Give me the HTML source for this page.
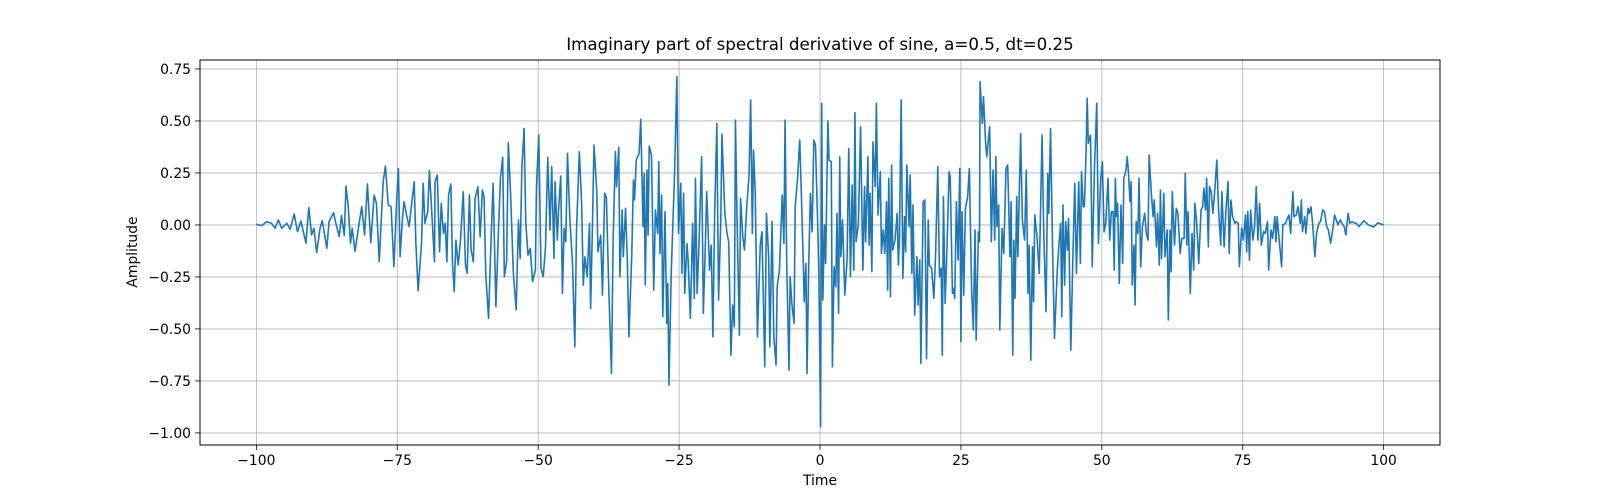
<!DOCTYPE html>
<html><head><meta charset="utf-8">
<style>
html,body{margin:0;padding:0;background:#fff;}
svg{display:block;font-family:"DejaVu Sans","Liberation Sans",sans-serif;}
</style></head>
<body>
<svg id="chart" width="1600" height="500" viewBox="0 0 1600 500" xmlns="http://www.w3.org/2000/svg">
<rect width="1600" height="500" fill="#fff"/>
<g id="grid"></g>
<g id="series"></g>
<rect x="200" y="60" width="1240" height="385" fill="none" stroke="#000" stroke-width="1"/>
<g id="ticks"></g>
<text x="820" y="50" text-anchor="middle" font-size="16.7">Imaginary part of spectral derivative of sine, a=0.5, dt=0.25</text>
<text x="820" y="485" text-anchor="middle" font-size="13.9">Time</text>
<text x="137" y="252" text-anchor="middle" font-size="13.9" transform="rotate(-90 137 252)">Amplitude</text>
</svg>
<script>
const xTicks=[-100,-75,-50,-25,0,25,50,75,100];
const yTicks=[-1.00,-0.75,-0.50,-0.25,0.00,0.25,0.50,0.75];
const yTickLabels=["\u22121.00","\u22120.75","\u22120.50","\u22120.25","0.00","0.25","0.50","0.75"];
const xTickLabels=["\u2212100","\u221275","\u221250","\u221225","0","25","50","75","100"];
const times=[-100,-99,-98.2,-97.3,-96.7,-96.1,-95.5,-94.6,-94,-93.3,-92.7,-92.1,-91.2,-90.7,-90.2,-89.8,-89.3,-88.7,-88.3,-87.5,-87.1,-86.3,-85.9,-85.3,-84.9,-84.4,-84.1,-83.7,-83.3,-83,-82.5,-81.9,-81.3,-80.8,-80.3,-79.7,-79.1,-78.7,-78.2,-77.9,-77.5,-77.1,-76.6,-76.1,-75.6,-75.1,-74.8,-74.5,-74.1,-73.8,-73.3,-72.9,-72.5,-72,-71.7,-71.3,-70.7,-70.4,-70.1,-69.6,-69.3,-68.9,-68.4,
-68.3,-67.9,-67.5,-67.2,-66.8,-66.5,-66.2,-65.9,-65.5,-65.2,-64.9,-64.6,-64.2,-63.8,-63.3,-62.9,-62.6,-62.2,-61.9,-61.5,-61.2,-60.7,-60.3,-59.9,-59.6,-59.3,-58.8,-58.4,-58,-57.5,-57,-56.7,-56.3,-56,-55.6,-55.3,-54.9,-54.4,-53.9,-53.5,-53.2,-52.9,-52.5,-52.2,-51.8,-51.4,-51,-50.5,-50.3,-49.9,-49.5,-49.1,-48.7,-48.3,-47.9,-47.6,-47.2,-47,-46.6,-46.4,-46,-45.7,-45.4,-45.1,-44.8,-44.4,-43.9,-43.5,-43.2,-42.7,-42.3,-42,-41.7,-41.3,-40.9,-40.7,-40.4,-40.1,-39.6,-39.4,-38.9,-38.6,-38.2,-37.9,-37.5,-37,-36.7,-36.3,-36.1,-35.7,
-35.5,-35.1,-34.9,-34.5,-34.2,-33.9,-33.4,-33.1,-32.9,-32.6,-32.1,-31.8,-31.4,-31.2,-31,-30.7,-30.5,-30.3,-29.9,-29.5,-29.2,-28.8,-28.6,-28.4,-28.1,-27.9,-27.5,-27.2,-27,-26.8,-26.4,-25.8,-25.4,-25.1,-24.7,-24.5,-24.2,-24,-23.6,-23.4,-23,-22.6,-22.3,-22.1,-21.8,-21.5,-21,-20.7,-20.4,-20.1,-19.6,-19.3,-19,-18.7,-18.3,-18,-17.6,-17.4,-16.9,-16.5,-16.2,-15.8,-15.5,-15.2,-15,-14.7,-14.3,-14.1,-13.7,-13.4,-13,-12.6,-12.3,-12,-11.8,-11.5,-11.1,-10.6,-10.3,-9.8,-9.5,-9.1,-8.9,-8.5,-8.2,-7.8,-7.6,-7.2,-6.7,-6.4,-6.2,-5.9,-5.5,-5.3,-5,-4.6,-4.4,-4,-3.6,-3.3,-2.9,
-2.8,-2.5,-2.3,-2,-1.7,-1.4,-1.1,-0.8,-0.4,-0.2,0.1,0.3,0.5,0.8,1,1.4,1.6,2,2.2,2.5,2.8,3,3.3,3.5,3.7,4,4.4,4.8,5.1,5.4,5.7,6,6.2,6.4,6.8,7.2,7.6,7.9,8.1,8.5,8.7,8.9,9.2,9.4,9.8,10,10.3,10.7,10.9,11.2,11.5,11.8,12,12.2,12.5,12.7,12.9,13.3,13.7,13.9,14.1,14.4,14.7,15,15.2,15.4,15.8,16,16.3,16.5,16.8,17.2,17.4,17.7,17.9,18.3,18.6,18.9,19.2,19.4,19.8,20.2,20.5,20.9,21.2,21.5,21.7,21.9,22.2,22.5,22.9,23.1,23.5,23.7,23.9,24.2,24.5,24.8,25,25.2,25.5,25.8,26.2,26.5,26.9,27.2,27.5,27.7,28.1,28.3,28.4,28.8,29,29.4,29.6,29.8,30.1,
30.4,30.7,31,31.2,31.4,31.7,31.9,32.3,32.6,33,33.3,33.7,33.9,34.2,34.4,34.6,34.9,35.1,35.6,35.9,36.3,36.6,36.9,37.1,37.4,37.7,37.9,38.1,38.5,38.9,39.4,39.7,40.1,40.4,40.6,40.9,41.3,41.6,42.1,42.4,42.7,42.9,43.1,43.4,43.6,43.9,44.1,44.5,44.8,45.2,45.5,45.9,46.2,46.4,46.7,46.9,47.2,47.4,47.6,48,48.3,48.7,49.1,49.4,49.8,50.1,50.4,50.7,51.1,51.4,51.7,52,52.2,52.4,52.6,52.8,53.1,53.4,53.7,53.9,54.3,54.5,54.7,55,55.2,55.4,55.7,55.9,56.1,56.4,56.6,56.9,57.2,57.6,57.9,58.2,58.4,58.8,59.1,59.3,59.7,59.9,60.2,60.4,60.6,61,61.2,61.6,61.8,62.1,62.3,62.5,62.9,
63.2,63.5,63.9,64.2,64.6,64.8,65.1,65.3,65.7,66,66.3,66.5,66.8,67.2,67.6,67.9,68.1,68.4,68.6,68.9,69.1,69.4,69.7,70,70.4,70.7,71.1,71.3,71.7,72,72.4,72.6,72.9,73.2,73.6,73.8,74.2,74.4,74.8,75.1,75.5,75.7,75.9,76.2,76.4,76.8,77.1,77.4,77.7,78,78.3,78.7,79,79.4,79.6,80,80.3,80.7,80.9,81.1,81.5,81.9,82.1,82.6,82.8,83.2,83.5,83.9,84.1,84.5,84.8,85.2,85.4,85.6,86,86.2,86.6,86.8,87.1,87.4,87.8,88.1,88.5,88.8,89.2,89.5,89.9,90.2,90.6,91,91.3,91.6,91.9,92.3,92.6,93,93.3,93.7,94,94.4,94.9,95.2,95.6,96.5,97.3,98.2,99,100];
const values=[0.003,-0.003,0.016,0.008,-0.016,0.024,-0.016,0.008,-0.021,0.053,-0.032,0.019,-0.088,0.083,-0.048,-0.016,-0.133,-0.016,0.021,-0.112,0.016,0.059,0.008,-0.056,0.045,-0.051,0.187,0.088,-0.088,-0.016,-0.128,-0.016,0.088,-0.048,0.197,-0.085,0.144,0.104,-0.177,-0.008,0.208,0.283,0.096,0.088,-0.201,0.12,0.272,-0.153,0.024,0.112,0.04,-0.008,0.088,0.208,-0.088,-0.316,-0.088,0.2,0.008,0.064,0.261,0.072,-0.177,
0.208,0.24,-0.129,0.104,-0.041,0.008,-0.177,0.144,0.197,-0.185,-0.321,-0.073,-0.193,-0.081,0.16,-0.193,-0.233,0.144,-0.121,-0.177,0.128,0.184,-0.057,0.168,0.136,-0.241,-0.449,-0.105,0.2,-0.393,0.008,0.224,0.325,-0.249,-0.177,0.395,0.152,-0.233,-0.409,0.024,-0.161,0.272,0.464,0.008,-0.145,-0.113,-0.273,-0.217,0.184,0.432,-0.209,-0.249,-0.105,0.325,-0.024,0.28,-0.161,0.208,-0.073,0.064,0.235,-0.329,-0.017,-0.081,0.344,0.04,-0.193,-0.586,-0.024,0.352,0.112,-0.289,-0.153,-0.249,0.008,-0.401,-0.041,0.384,0.16,-0.129,-0.049,-0.337,0.152,0.133,-0.281,-0.714,-0.073,0.352,0.184,0.373,
-0.249,0.072,-0.153,0.08,-0.153,-0.538,-0.145,0.216,0.12,0.312,0.344,0.508,-0.008,0.248,-0.289,0.264,-0.049,0.379,0.336,-0.313,0.072,-0.041,0.304,-0.137,0.144,-0.441,0.064,-0.473,-0.281,-0.77,-0.233,0.248,0.713,-0.041,0.2,-0.233,0.152,-0.329,-0.089,-0.169,-0.449,0.008,-0.353,0.224,-0.329,-0.113,0.328,-0.425,-0.153,0.16,-0.217,-0.097,-0.538,0.04,0.488,-0.361,0.024,0.437,0.064,-0.041,-0.081,-0.626,-0.385,-0.489,0.504,0,-0.53,0.128,-0.057,-0.121,0.088,0.232,0.601,-0.041,0.36,0.16,-0.538,-0.097,-0.033,-0.682,0.056,-0.161,-0.586,0.016,-0.538,-0.674,-0.297,-0.217,0.144,-0.089,0.504,-0.193,-0.698,-0.249,-0.377,-0.473,0.088,0.216,0.408,0.144,-0.249,
-0.369,-0.185,-0.714,-0.185,0.152,-0.033,0.408,0.384,-0.008,-0.233,-0.97,0.585,-0.361,0,-0.185,0.5,0.312,0.304,-0.682,-0.201,-0.297,0.056,-0.425,0.328,-0.153,0.024,-0.337,-0.169,0.368,-0.249,0.192,-0.217,0.54,-0.081,0,0.472,-0.217,0.184,-0.081,0.328,-0.097,0.152,-0.225,0.4,0.184,0.585,0.048,0.256,-0.137,-0.024,-0.137,0.112,-0.313,0.224,-0.345,0.288,-0.121,-0.073,0.056,-0.193,-0.073,0.601,-0.257,0.04,-0.129,0.288,-0.008,0.24,-0.233,0.096,-0.433,-0.153,-0.385,-0.169,-0.666,0.112,0.12,-0.642,0.024,-0.193,-0.209,-0.353,-0.145,0.28,-0.249,-0.209,-0.626,0.136,-0.377,-0.137,0.256,0.232,-0.329,-0.305,-0.353,0.112,-0.169,0.272,-0.562,0.064,-0.337,0.08,0.136,0.272,-0.313,-0.505,-0.024,-0.554,-0.033,-0.081,0.689,0.488,0.617,0.384,0.328,0.392,0.472,
-0.081,0.264,-0.073,0.328,-0.008,0.096,-0.505,-0.017,-0.137,0.272,0.288,-0.153,0.112,-0.626,-0.073,-0.353,0.136,-0.153,0.44,0.024,-0.073,0.264,-0.329,-0.097,-0.65,-0.105,-0.369,0.048,-0.057,-0.233,0.432,-0.041,-0.417,0.248,0.056,0.464,-0.169,-0.545,-0.217,-0.089,0.008,-0.441,0.096,-0.289,0.016,-0.121,0.032,-0.602,-0.233,0.2,-0.233,0.208,-0.185,0.256,0.088,0.088,0.344,0.609,0.392,0.432,-0.201,0.28,0.585,-0.089,0.224,0.304,-0.033,0.008,0.224,-0.073,0.064,0.064,-0.217,0.224,0.04,0.104,-0.281,0.096,-0.185,0.224,0.264,0.328,0.264,0.112,0.208,-0.289,-0.097,-0.385,0.016,-0.041,0.224,-0.201,-0.008,0.056,-0.041,-0.073,0.336,0.144,0.04,0.12,-0.105,0.056,-0.193,0.168,-0.161,0.152,-0.153,-0.024,-0.457,-0.024,-0.225,0.16,-0.097,
0.08,0.056,-0.137,-0.065,-0.065,0.248,-0.097,0.064,-0.329,-0.041,-0.217,0.104,0.024,-0.185,0.072,0.088,0.176,0.072,0.224,-0.105,0.184,0.16,0.056,0.152,0.312,0.08,-0.097,0.16,-0.105,0.064,0.208,-0.137,0.12,0.04,0.008,0.016,0.008,-0.201,-0.016,-0.073,0.048,-0.129,0.064,-0.169,0.072,-0.073,-0.008,0.184,-0.073,0.104,-0.097,-0.032,-0.041,0.016,-0.217,-0.024,-0.065,0.04,-0.081,0.04,-0.081,-0.201,0,0.008,0.024,0.048,-0.041,0.16,0.04,0.048,0.088,0.008,0.12,-0.032,0.04,-0.041,0.08,0.056,0.088,0.008,-0.153,-0.041,0.008,0.016,0.072,0.064,-0.008,-0.024,-0.088,-0.016,0.048,0.024,0,0.024,0.008,-0.008,-0.048,0.056,0.008,0.016,0.008,0.008,-0.008,0.02,0,-0.01,0.01,0];

const X0=200,X1=1440,Y0=60,Y1=445;
const xMin=-110,xMax=110,yMin=-1.058,yMax=0.793;
function xs(t){return X0+(t-xMin)/(xMax-xMin)*(X1-X0);}
function ys(v){return Y1-(v-yMin)/(yMax-yMin)*(Y1-Y0);}
const NS="http://www.w3.org/2000/svg";
const grid=document.getElementById('grid'),ticks=document.getElementById('ticks'),series=document.getElementById('series');
function mk(tag,attrs,parent){const e=document.createElementNS(NS,tag);for(const k in attrs)e.setAttribute(k,attrs[k]);parent.appendChild(e);return e;}
xTicks.forEach((t,i)=>{
  const x=xs(t);
  const g=mk('line',{x1:x,x2:x,y1:Y0,y2:Y1,stroke:'#b0b0b0','stroke-width':0.8},grid);
  
  
  const tk=mk('line',{x1:x,x2:x,y1:Y1,y2:Y1+5,stroke:'#000','stroke-width':0.8},ticks);
  
  
  const lb=mk('text',{x:x,y:Y1+20,'text-anchor':'middle','font-size':13.9},ticks);
  lb.textContent=xTickLabels[i];
  
  
});
yTicks.forEach((v,i)=>{
  const y=ys(v);
  const g=mk('line',{x1:X0,x2:X1,y1:y,y2:y,stroke:'#b0b0b0','stroke-width':0.8},grid);
  
  
  const tk=mk('line',{x1:X0-5,x2:X0,y1:y,y2:y,stroke:'#000','stroke-width':0.8},ticks);
  
  
  const lb=mk('text',{x:X0-9,y:y+5,'text-anchor':'end','font-size':13.9},ticks);
  lb.textContent=yTickLabels[i];
  
  
});
const n=Math.min(times.length,values.length);
let d='';
for(let i=0;i<n;i++){d+=(i?'L':'M')+xs(times[i]).toFixed(2)+' '+ys(values[i]).toFixed(2);}
const p=mk('path',{d:d,fill:'none',stroke:'#1f77b4','stroke-width':1.6,'stroke-linejoin':'round'},series);


</script>
</body></html>
